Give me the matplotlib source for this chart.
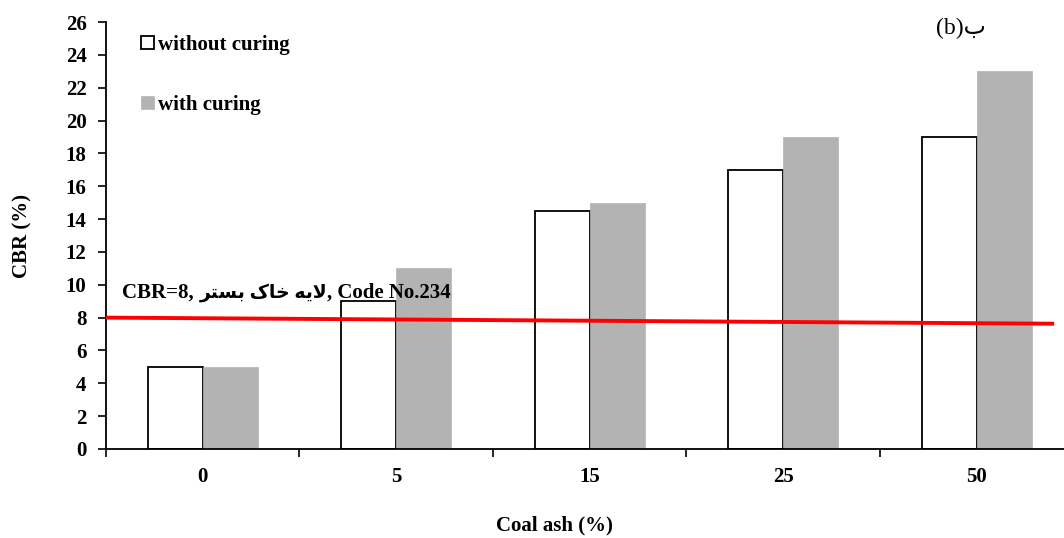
import matplotlib
matplotlib.use("Agg")
import matplotlib.pyplot as plt
from matplotlib.offsetbox import TextArea, HPacker, AnnotationBbox
import numpy as np

# values
categories = ["0", "5", "15", "25", "50"]
without_curing = [5, 9, 14.5, 17, 19]
with_curing = [5, 11, 15, 19, 23]
limit_line_x = [-0.5, 4.39]
limit_line_y = [8.0, 7.63]
y_ticks = list(range(0, 27, 2))

SERIF = ["Liberation Serif", "DejaVu Sans"]
plt.rcParams["font.family"] = SERIF
plt.rcParams["font.weight"] = "bold"

# "لایه خاک بستر" pre-shaped in visual (left to right) order,
# since matplotlib does no Arabic shaping or bidi reordering
arabic_label = "\ufeae\ufe98\ufeb4\ufe91 \ufb8e\ufe8e\ufea7 \ufeea\ufbfe\ufefb"
panel_label = "(b)\ufe8f"

fig = plt.figure(figsize=(10.64, 5.38), dpi=100)
ax = fig.add_axes([106 / 1064, 1 - 449 / 538, 1 - 106 / 1064, (449 - 22) / 538])

x = np.arange(len(categories))
w = 0.285
ax.bar(x - w / 2, without_curing, w, color="white", edgecolor="black",
       linewidth=1.3, label="without curing", zorder=2)
ax.bar(x + w / 2, with_curing, w, color="#b3b3b3", edgecolor="#b3b3b3",
       linewidth=0.5, label="with curing", zorder=2)

ax.plot(limit_line_x, limit_line_y, color="red", linewidth=2.8, zorder=3)

# label of the red line: latin parts and the persian part at slightly different sizes
tp = dict(fontsize=15, fontweight="bold", family=SERIF)
parts = HPacker(children=[
    TextArea("CBR=8, ", textprops=tp),
    TextArea(arabic_label, textprops=dict(fontsize=13.5, fontweight="bold", family=SERIF)),
    TextArea(", Code No.234", textprops=tp),
], sep=0, pad=0, align="baseline")
ab = AnnotationBbox(parts, (-0.415, 9.5), box_alignment=(0, 0.5), frameon=False,
                    pad=0, zorder=4)
ax.add_artist(ab)

ax.set_xlim(-0.5, 4.451)
ax.set_ylim(0, 26)
ax.set_yticks(y_ticks)
ax.set_xticks(x)
ax.set_xticklabels(categories)
ax.set_xticks(np.arange(-0.5, 4.5, 1), minor=True)
ax.tick_params(axis="x", which="major", length=0, pad=13, labelsize=15)
ax.tick_params(axis="x", which="minor", length=6, width=1.2, direction="out")
ax.tick_params(axis="y", length=6, width=1.2, pad=8, labelsize=15)

for s in ["top", "right"]:
    ax.spines[s].set_visible(False)
for s in ["left", "bottom"]:
    ax.spines[s].set_linewidth(1.3)

ax.set_ylabel("CBR (%)", fontsize=15, fontweight="bold", labelpad=24)
fig.text(0.521, 0.024, "Coal ash (%)", fontsize=15, fontweight="bold",
         ha="center", va="center")

fig.text(0.88, 0.948, panel_label, fontsize=17, fontweight="normal",
         family=SERIF, ha="left", va="center")

ax.legend(loc="upper left", bbox_to_anchor=(0.028, 0.99), frameon=False,
          fontsize=15, handlelength=0.6, handleheight=0.6, handletextpad=0.2,
          labelspacing=1.95, borderaxespad=0)

fig.savefig("out.png", dpi=100)
